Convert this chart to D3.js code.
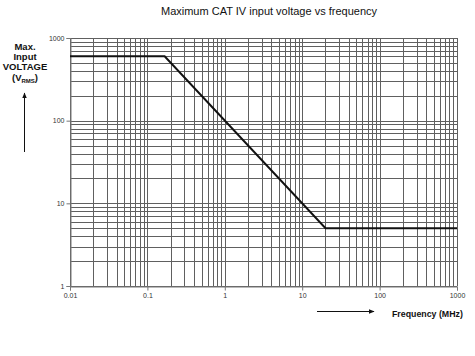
<!DOCTYPE html>
<html><head><meta charset="utf-8">
<script src="https://cdn.jsdelivr.net/npm/d3@7"></script>
<style>body{margin:0;background:#fff}svg{display:block}text{font-family:Arial,"Liberation Sans",sans-serif}</style>
</head><body><svg id="c" width="475" height="356"></svg>
<script>
const freqMHz = [0.01, 0.167, 20, 1000];
const voltageVrms = [600, 600, 5, 5];
const xTickLabels = ["0.01", "0.1", "1", "10", "100", "1000"];
const yTickLabels = ["1", "10", "100", "1000"];
const title = "Maximum CAT IV input voltage vs frequency";

const svg = d3.select("#c");
const x = d3.scaleLog().domain([0.01, 1000]).range([70, 457]);
const y = d3.scaleLog().domain([1, 1000]).range([286, 38]);

const minor = (lo, hi) => { const a = []; for (let d = lo; d < hi; d *= 10) for (let k = 1; k <= 9; k++) a.push(d * k); a.push(hi); return a; };
const xGrid = minor(0.01, 1000), yGrid = minor(1, 1000);

const g = svg.append("g");
g.selectAll(".vg").data(xGrid).join("line")
  .attr("x1", d => Math.round(x(d)) + 0.5).attr("x2", d => Math.round(x(d)) + 0.5)
  .attr("y1", y(1000)).attr("y2", y(1)).attr("stroke", "#606060").attr("stroke-width", 1);
g.selectAll(".hg").data(yGrid).join("line")
  .attr("y1", d => Math.round(y(d)) + 0.5).attr("y2", d => Math.round(y(d)) + 0.5)
  .attr("x1", x(0.01)).attr("x2", x(1000)).attr("stroke", "#606060").attr("stroke-width", 1);

const xAxis = d3.axisBottom(x).tickValues(xTickLabels.map(Number)).tickFormat((d, i) => xTickLabels[i]).tickSize(4).tickPadding(3);
const yAxis = d3.axisLeft(y).tickValues(yTickLabels.map(Number)).tickFormat((d, i) => yTickLabels[i]).tickSize(4).tickPadding(2);
const ax = svg.append("g").attr("transform", "translate(0,286.5)").call(xAxis);
const ay = svg.append("g").attr("transform", "translate(70.5,0)").call(yAxis);
[ax, ay].forEach(a => {
  a.selectAll("path,line").attr("stroke", "#777");
  a.selectAll("text").attr("font-size", 7).attr("fill", "#333").attr("font-family", "Arial, 'Liberation Sans', sans-serif");
});

const pts = freqMHz.map((f, i) => [f, voltageVrms[i]]);
svg.append("path").datum(pts)
  .attr("d", d3.line().x(d => x(d[0])).y(d => y(d[1])))
  .attr("fill", "none").attr("stroke", "#111").attr("stroke-width", 2);

svg.append("text").attr("x", 269).attr("y", 15).attr("text-anchor", "middle")
  .attr("font-size", 11).attr("fill", "#111").text(title);

const yl = svg.append("text").attr("text-anchor", "middle").attr("font-size", 9.5).attr("font-weight", "bold").attr("fill", "#111");
yl.append("tspan").attr("x", 25).attr("y", 50).text("Max.");
yl.append("tspan").attr("x", 25).attr("y", 60).text("Input");
yl.append("tspan").attr("x", 25).attr("y", 70).text("VOLTAGE");
const t4 = yl.append("tspan").attr("x", 25).attr("y", 81);
t4.text("(V");
t4.append("tspan").attr("font-size", 6).attr("dy", 1.5).text("RMS");
t4.append("tspan").attr("dy", -1.5).text(")");

const defs = svg.append("defs");
defs.append("marker").attr("id", "ah").attr("viewBox", "0 0 10 10").attr("refX", 9).attr("refY", 5)
  .attr("markerWidth", 6).attr("markerHeight", 6).attr("orient", "auto")
  .append("path").attr("d", "M0,1 L10,5 L0,9 Z").attr("fill", "#111");
svg.append("line").attr("x1", 24.5).attr("x2", 24.5).attr("y1", 152).attr("y2", 93)
  .attr("stroke", "#111").attr("stroke-width", 1).attr("marker-end", "url(#ah)");
svg.append("line").attr("x1", 317).attr("x2", 374).attr("y1", 311.5).attr("y2", 311.5)
  .attr("stroke", "#111").attr("stroke-width", 1).attr("marker-end", "url(#ah)");

svg.append("text").attr("x", 392).attr("y", 317).attr("font-size", 8.8).attr("font-weight", "bold").attr("fill", "#111").text("Frequency (MHz)");
</script></body></html>
